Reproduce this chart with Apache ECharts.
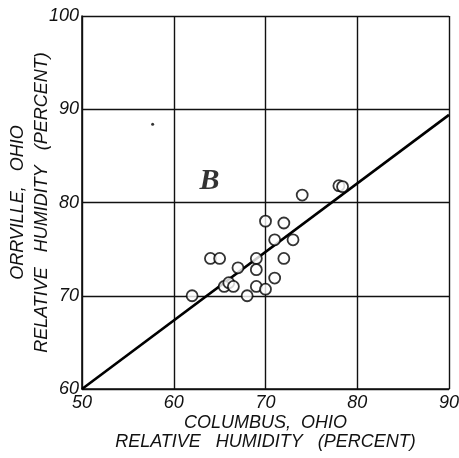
<!DOCTYPE html>
<html><head><meta charset="utf-8">
<script src="https://cdn.jsdelivr.net/npm/echarts@6/dist/echarts.min.js"></script>
<style>html,body{margin:0;padding:0;background:#fff}#c{width:459px;height:458px}</style>
</head><body><div id="c"></div>
<script>
// Columbus RH (x) vs Orrville RH (y)
var columbus = [62, 64, 65, 65.5, 66, 66.5, 67, 68, 69, 69, 69, 70, 70, 71, 71, 72, 72, 73, 74, 78, 78.4];
var orrville = [70, 74, 74, 71, 71.4, 71, 73, 70, 74, 72.8, 71, 70.7, 78, 76, 71.9, 77.8, 74, 76, 80.8, 81.8, 81.7];
var fitX = [50, 90];
var fitY = [60, 89.4];
var xTicks = [50, 60, 70, 80, 90];
var yTicks = [60, 70, 80, 90, 100];
var stray = [[57.7, 88.4]];
var label = {x: 63.9, y: 82.3, text: 'B'};

var pts = columbus.map(function(v, i){ return [v, orrville[i]]; });
var fit = fitX.map(function(v, i){ return [v, fitY[i]]; });
var font = 'Liberation Sans';
var chart = echarts.init(document.getElementById('c'), null, {renderer: 'canvas'});
chart.setOption({
  animation: false,
  backgroundColor: '#fff',
  grid: {left: 82, right: 10, top: 16, bottom: 69, containLabel: false, outerBoundsMode: 'none'},
  xAxis: {
    type: 'value', min: xTicks[0], max: xTicks[xTicks.length-1], interval: 10,
    name: 'COLUMBUS,  OHIO\nRELATIVE   HUMIDITY   (PERCENT)',
    nameLocation: 'middle', nameGap: 24, nameMoveOverlap: false,
    nameTextStyle: {fontFamily: font, fontStyle: 'italic', fontSize: 18, color: '#111', lineHeight: 19, align: 'center'},
    axisLine: {show: true, lineStyle: {color: '#111', width: 1.6}},
    axisTick: {show: false},
    splitLine: {show: true, lineStyle: {color: '#111', width: 1.4}},
    axisLabel: {fontFamily: font, fontStyle: 'italic', fontSize: 18, color: '#111', margin: 5}
  },
  yAxis: {
    type: 'value', min: yTicks[0], max: yTicks[yTicks.length-1], interval: 10,
    name: 'ORRVILLE,   OHIO\nRELATIVE   HUMIDITY   (PERCENT)',
    nameLocation: 'middle', nameGap: 28, nameRotate: 90, nameMoveOverlap: false,
    nameTextStyle: {fontFamily: font, fontStyle: 'italic', fontSize: 18, color: '#111', lineHeight: 24, align: 'center'},
    axisLine: {show: true, lineStyle: {color: '#111', width: 1.6}},
    axisTick: {show: false},
    splitLine: {show: true, lineStyle: {color: '#111', width: 1.4}},
    axisLabel: {fontFamily: font, fontStyle: 'italic', fontSize: 18, color: '#111', margin: 3}
  },
  series: [
    {type: 'line', data: fit, symbol: 'none', lineStyle: {color: '#000', width: 2.6}, z: 3},
    {type: 'scatter', data: pts, symbol: 'circle', symbolSize: 11,
     itemStyle: {color: '#fff', borderColor: '#000', borderWidth: 1.8}, z: 4},
    {type: 'scatter', data: stray, symbolSize: 3, itemStyle: {color: '#000'}, z: 4},
    {type: 'scatter', data: [[label.x, label.y]], symbolSize: 0,
     label: {show: true, position: 'inside', formatter: label.text, fontFamily: 'Liberation Serif',
             fontStyle: 'italic', fontWeight: 'bold', fontSize: 30, color: '#000'}, z: 5}
  ]
});
</script></body></html>
